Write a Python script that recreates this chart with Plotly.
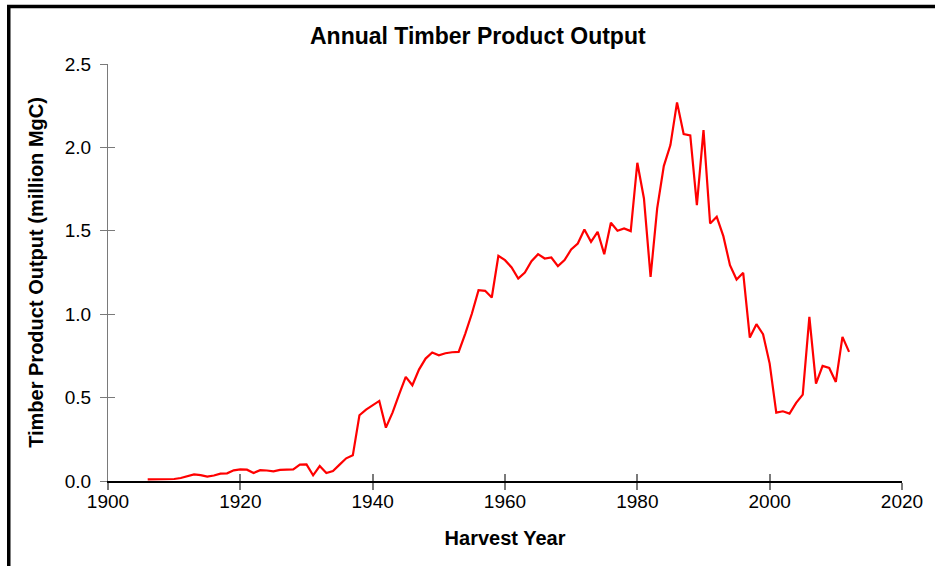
import plotly.graph_objects as go

# harvest years and annual timber product output (million MgC)
years = list(range(1906, 2013))
output_mgc = [
    0.010, 0.010, 0.010, 0.010, 0.012, 0.018, 0.030, 0.040, 0.035, 0.026,  # 1906-1915
    0.033, 0.044, 0.046, 0.064, 0.070, 0.068, 0.048, 0.065, 0.063, 0.058,  # 1916-1925
    0.067, 0.070, 0.070, 0.098, 0.100, 0.034, 0.090, 0.048, 0.060, 0.098,  # 1926-1935
    0.136, 0.154, 0.394, 0.428, 0.455, 0.480, 0.320, 0.410, 0.520, 0.624,  # 1936-1945
    0.574, 0.668, 0.734, 0.770, 0.754, 0.766, 0.772, 0.774, 0.884, 1.004,  # 1946-1955
    1.144, 1.140, 1.100, 1.350, 1.324, 1.280, 1.214, 1.250, 1.318, 1.360,  # 1956-1965
    1.334, 1.340, 1.288, 1.324, 1.388, 1.424, 1.508, 1.434, 1.494, 1.360,  # 1966-1975
    1.548, 1.500, 1.514, 1.498, 1.908, 1.694, 1.224, 1.634, 1.888, 2.014,  # 1976-1985
    2.270, 2.080, 2.072, 1.654, 2.104, 1.544, 1.584, 1.468, 1.294, 1.208,  # 1986-1995
    1.248, 0.860, 0.940, 0.880, 0.704, 0.410, 0.418, 0.404, 0.468, 0.518,  # 1996-2005
    0.984, 0.584, 0.690, 0.678, 0.594, 0.864, 0.774,                       # 2006-2012
]

x_range = [1900, 2020]
y_range = [0, 2.5]

font = "Liberation Sans, Arial, sans-serif"
tick_grey = "#7a7a7a"

fig = go.Figure()
fig.add_trace(go.Scatter(
    x=years, y=output_mgc, mode="lines",
    line=dict(color="#ff0000", width=2.2),
    showlegend=False,
))
# empty trace so the overlay axes (inner half of the crossing ticks) get drawn
fig.add_trace(go.Scatter(x=[None], y=[None], xaxis="x2", yaxis="y2",
                         showlegend=False, hoverinfo="skip"))

fig.update_layout(
    width=935, height=566,
    margin=dict(l=108, r=30, t=64, b=85),
    paper_bgcolor="white", plot_bgcolor="white",
    font=dict(family=font, color="black", size=19),
    title=dict(text="<b>Annual Timber Product Output</b>", x=0.511, xref="container",
               y=0.937, yref="container", xanchor="center", yanchor="middle",
               font=dict(size=23, color="black")),
    xaxis=dict(range=x_range, dtick=20, showgrid=False, zeroline=False,
               showline=True, linecolor="black", linewidth=1.5,
               ticks="outside", ticklen=7, tickcolor=tick_grey, tickwidth=1.5,
               tickfont=dict(size=19), ticklabelstandoff=-5,
               title=dict(text="<b>Harvest Year</b>", font=dict(size=20), standoff=20)),
    yaxis=dict(range=y_range, dtick=0.5, tickformat=".1f", showgrid=False, zeroline=False,
               showline=True, linecolor=tick_grey, linewidth=1.2,
               ticks="outside", ticklen=7, tickcolor=tick_grey, tickwidth=1.2,
               tickfont=dict(size=19), ticklabelstandoff=5,
               title=dict(text="<b>Timber Product Output (million MgC)</b>",
                          font=dict(size=20), standoff=15)),
    xaxis2=dict(range=x_range, dtick=20, overlaying="x", anchor="y2", side="bottom",
                showgrid=False, zeroline=False, showline=False, showticklabels=False,
                ticks="inside", ticklen=7, tickcolor=tick_grey, tickwidth=1.5),
    yaxis2=dict(range=y_range, dtick=0.5, overlaying="y", anchor="x2", side="left",
                showgrid=False, zeroline=False, showline=False, showticklabels=False,
                ticks="inside", ticklen=7, tickcolor=tick_grey, tickwidth=1.2),
)

# black frame along the top and left edge of the picture (rest runs off the page)
fig.add_shape(type="rect", xref="paper", yref="paper", x0=-0.125, x1=1.2, y0=-0.4, y1=1.138,
              line=dict(color="black", width=3.5), fillcolor="rgba(0,0,0,0)", layer="above")

# drop the page's default body margin so the figure sits at the window's corner
fig.write_html("out.html", config={"displayModeBar": False},
               post_script="document.body.style.margin='0';")
